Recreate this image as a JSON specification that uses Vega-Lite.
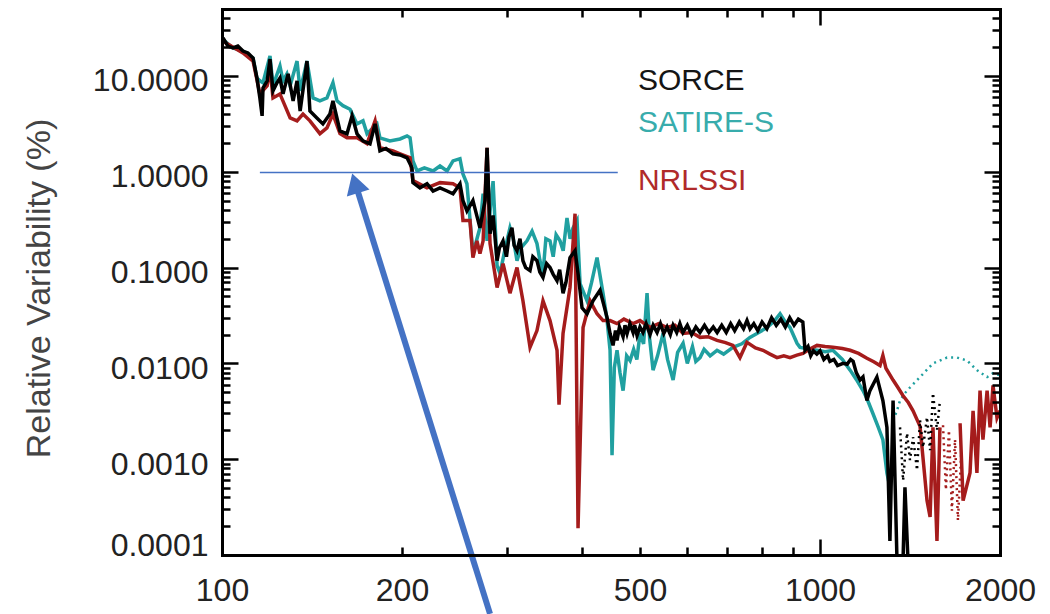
{
  "$schema": "https://vega.github.io/schema/vega-lite/v6.json",
  "width": 778,
  "height": 546,
  "autosize": {"type": "none"},
  "padding": {"left": 222, "top": 9, "right": 50, "bottom": 59},
  "background": "white",
  "config": {"view": {"stroke": null}, "font": "Liberation Sans"},
  "datasets": {
    "teal": [
      {"wl":100.4,"v":24},{"wl":104.3,"v":19.6},{"wl":108.4,"v":18.2},{"wl":112.7,"v":15.4},{"wl":114.4,"v":9.5},{"wl":115.7,"v":8.9},{"wl":117.1,"v":8.5},{"wl":120.3,"v":16.2},{"wl":121.7,"v":7.9},{"wl":125.0,"v":12.7},{"wl":126.5,"v":8.9},{"wl":128.4,"v":10.5},{"wl":130.0,"v":7.9},{"wl":133.5,"v":14.3},{"wl":135.1,"v":7.0},{"wl":138.7,"v":14.3},{"wl":142.0,"v":5.9},{"wl":145.8,"v":5.5},{"wl":149.8,"v":5.9},{"wl":153.3,"v":8.5},{"wl":155.7,"v":5.5},{"wl":159.3,"v":4.9},{"wl":163.7,"v":4.5},{"wl":168.2,"v":3.16},{"wl":172.1,"v":3.4},{"wl":174.8,"v":2.5},{"wl":181.6,"v":3.16},{"wl":183.7,"v":2.26},{"wl":190.9,"v":2.1},{"wl":198.5,"v":2.2},{"wl":203.9,"v":2.37},{"wl":206.3,"v":2.26},{"wl":208.6,"v":1.3},{"wl":211.9,"v":1.02},{"wl":218,"v":1.1},{"wl":225.4,"v":1.02},{"wl":231.5,"v":1.15},{"wl":237.9,"v":1.02},{"wl":243.4,"v":1.3},{"wl":250.0,"v":1.37},{"wl":252.9,"v":0.95},{"wl":256.8,"v":0.75},{"wl":262.8,"v":0.14},{"wl":270.0,"v":0.26},{"wl":273.3,"v":0.59},{"wl":277.5,"v":0.19},{"wl":284.0,"v":0.8},{"wl":288.4,"v":0.105},{"wl":291.7,"v":0.087},{"wl":297,"v":0.15},{"wl":303.1,"v":0.26},{"wl":307,"v":0.2},{"wl":311.4,"v":0.118},{"wl":316,"v":0.16},{"wl":323.6,"v":0.19},{"wl":330,"v":0.24},{"wl":336.3,"v":0.178},{"wl":340,"v":0.12},{"wl":344.2,"v":0.087},{"wl":348,"v":0.2},{"wl":353.6,"v":0.19},{"wl":358,"v":0.13},{"wl":362,"v":0.22},{"wl":367.5,"v":0.19},{"wl":372,"v":0.15},{"wl":377.5,"v":0.33},{"wl":382,"v":0.2},{"wl":386.4,"v":0.26},{"wl":392.4,"v":0.31},{"wl":397.0,"v":0.068},{"wl":407.8,"v":0.045},{"wl":415,"v":0.07},{"wl":423.8,"v":0.127},{"wl":433.7,"v":0.054},{"wl":440,"v":0.03},{"wl":445.6,"v":0.0137},{"wl":449.0,"v":0.0011},{"wl":453,"v":0.009},{"wl":457.7,"v":0.0137},{"wl":463,"v":0.008},{"wl":468.5,"v":0.0052},{"wl":475,"v":0.012},{"wl":481.3,"v":0.0107},{"wl":488,"v":0.014},{"wl":494,"v":0.011},{"wl":500.1,"v":0.0205},{"wl":507,"v":0.016},{"wl":513.8,"v":0.054},{"wl":519,"v":0.018},{"wl":525.8,"v":0.0085},{"wl":535,"v":0.012},{"wl":546.5,"v":0.0205},{"wl":556,"v":0.011},{"wl":568.0,"v":0.0067},{"wl":578,"v":0.013},{"wl":590.3,"v":0.0162},{"wl":600,"v":0.01},{"wl":612,"v":0.015},{"wl":620,"v":0.0105},{"wl":630.2,"v":0.0115},{"wl":640,"v":0.014},{"wl":655,"v":0.012},{"wl":672.7,"v":0.0137},{"wl":690,"v":0.0125},{"wl":715.3,"v":0.0147},{"wl":740,"v":0.016},{"wl":763.6,"v":0.0187},{"wl":790,"v":0.021},{"wl":815.5,"v":0.0237},{"wl":840,"v":0.028},{"wl":857.4,"v":0.033},{"wl":875,"v":0.027},{"wl":891.1,"v":0.0237},{"wl":915.4,"v":0.0162},{"wl":926.0,"v":0.0147},{"wl":955,"v":0.0142},{"wl":988.5,"v":0.0137},{"wl":1020,"v":0.0132},{"wl":1051,"v":0.0137},{"wl":1090,"v":0.011},{"wl":1123,"v":0.0085},{"wl":1150,"v":0.0068},{"wl":1180,"v":0.0052},{"wl":1200,"v":0.0042},{"wl":1226,"v":0.003},{"wl":1250,"v":0.0022},{"wl":1274,"v":0.0016},{"wl":1294,"v":0.00072},{"wl":1309,"v":0.00051}
    ],
    "tealdot": [
      {"wl":1325,"v":0.00255},{"wl":1345,"v":0.0032},{"wl":1361,"v":0.0041},{"wl":1387,"v":0.0049},{"wl":1414,"v":0.0056},{"wl":1470,"v":0.0072},{"wl":1545,"v":0.01},{"wl":1631,"v":0.0115},{"wl":1695,"v":0.0115},{"wl":1762,"v":0.0107},{"wl":1830,"v":0.0085},{"wl":1903,"v":0.0072},{"wl":1947,"v":0.0079},{"wl":2000,"v":0.0075}
    ],
    "red": [
      {"seg":1,"wl":100.4,"v":23},{"seg":1,"wl":108.4,"v":17.4},{"seg":1,"wl":112.7,"v":14.3},{"seg":1,"wl":115.7,"v":6.5},{"seg":1,"wl":119.0,"v":7.9},{"seg":1,"wl":120.3,"v":12.1},{"seg":1,"wl":121.7,"v":5.9},{"seg":1,"wl":125.0,"v":6.5},{"seg":1,"wl":130.0,"v":3.65},{"seg":1,"wl":133.5,"v":3.4},{"seg":1,"wl":136.6,"v":4.0},{"seg":1,"wl":140.3,"v":3.4},{"seg":1,"wl":145.8,"v":2.5},{"seg":1,"wl":149.8,"v":2.87},{"seg":1,"wl":153.3,"v":4.0},{"seg":1,"wl":157.5,"v":2.5},{"seg":1,"wl":161.8,"v":2.26},{"seg":1,"wl":168.2,"v":2.26},{"seg":1,"wl":174.8,"v":1.96},{"seg":1,"wl":180.3,"v":3.4},{"seg":1,"wl":183.7,"v":1.78},{"seg":1,"wl":193.2,"v":1.65},{"seg":1,"wl":198.5,"v":1.54},{"seg":1,"wl":206.3,"v":1.4},{"seg":1,"wl":208.6,"v":0.81},{"seg":1,"wl":220.2,"v":0.68},{"seg":1,"wl":231.5,"v":0.77},{"seg":1,"wl":243.4,"v":0.75},{"seg":1,"wl":250.0,"v":0.68},{"seg":1,"wl":252.9,"v":0.31},{"seg":1,"wl":259.8,"v":0.31},{"seg":1,"wl":262.8,"v":0.127},{"seg":1,"wl":266.9,"v":0.19},{"seg":1,"wl":270.0,"v":0.14},{"seg":1,"wl":273.3,"v":0.19},{"seg":1,"wl":277.5,"v":1.78},{"seg":1,"wl":280.7,"v":0.178},{"seg":1,"wl":288.4,"v":0.062},{"seg":1,"wl":295.1,"v":0.11},{"seg":1,"wl":303.1,"v":0.054},{"seg":1,"wl":311.4,"v":0.1},{"seg":1,"wl":318.6,"v":0.045},{"seg":1,"wl":327.4,"v":0.0147},{"seg":1,"wl":336.3,"v":0.022},{"seg":1,"wl":344.2,"v":0.045},{"seg":1,"wl":353.6,"v":0.028},{"seg":1,"wl":363.3,"v":0.0137},{"seg":1,"wl":366.1,"v":0.0037},{"seg":1,"wl":371.8,"v":0.0205},{"seg":1,"wl":381.9,"v":0.062},{"seg":1,"wl":389.4,"v":0.365},{"seg":1,"wl":393.9,"v":0.00019},{"seg":1,"wl":401.6,"v":0.0237},{"seg":1,"wl":412.6,"v":0.045},{"seg":1,"wl":423.8,"v":0.033},{"seg":1,"wl":433.7,"v":0.028},{"seg":1,"wl":445.6,"v":0.028},{"seg":1,"wl":457.7,"v":0.026},{"seg":1,"wl":470,"v":0.029},{"seg":1,"wl":486.9,"v":0.026},{"seg":1,"wl":500,"v":0.028},{"seg":1,"wl":519.8,"v":0.0237},{"seg":1,"wl":537,"v":0.026},{"seg":1,"wl":555.0,"v":0.0237},{"seg":1,"wl":572,"v":0.025},{"seg":1,"wl":590.3,"v":0.0205},{"seg":1,"wl":610,"v":0.021},{"seg":1,"wl":630.2,"v":0.0187},{"seg":1,"wl":650,"v":0.019},{"seg":1,"wl":672.7,"v":0.0174},{"seg":1,"wl":695,"v":0.0165},{"seg":1,"wl":715.3,"v":0.0154},{"seg":1,"wl":734.8,"v":0.0115},{"seg":1,"wl":754.9,"v":0.0166},{"seg":1,"wl":780,"v":0.0145},{"seg":1,"wl":803.0,"v":0.0137},{"seg":1,"wl":825,"v":0.0125},{"seg":1,"wl":847.5,"v":0.0115},{"seg":1,"wl":870,"v":0.012},{"seg":1,"wl":891.1,"v":0.0115},{"seg":1,"wl":915,"v":0.0122},{"seg":1,"wl":936.8,"v":0.0127},{"seg":1,"wl":960,"v":0.014},{"seg":1,"wl":988.5,"v":0.0154},{"seg":1,"wl":1020,"v":0.015},{"seg":1,"wl":1051,"v":0.0147},{"seg":1,"wl":1090,"v":0.0143},{"seg":1,"wl":1123,"v":0.0137},{"seg":1,"wl":1160,"v":0.0127},{"seg":1,"wl":1198,"v":0.0113},{"seg":1,"wl":1230,"v":0.0104},{"seg":1,"wl":1260,"v":0.0095},{"seg":1,"wl":1274,"v":0.0121},{"seg":1,"wl":1289,"v":0.0089},{"seg":1,"wl":1325,"v":0.0067},{"seg":1,"wl":1350,"v":0.0056},{"seg":1,"wl":1377,"v":0.0046},{"seg":1,"wl":1405,"v":0.0039},{"seg":1,"wl":1431,"v":0.0032},{"seg":1,"wl":1470,"v":0.0022},{"seg":1,"wl":1510,"v":0.00037},{"seg":1,"wl":1528,"v":0.00025},{"seg":1,"wl":1545,"v":0.00215},{"seg":1,"wl":1569,"v":0.00014},{"seg":1,"wl":1587,"v":0.00215},
      {"seg":2,"wl":1715,"v":0.00237},{"seg":2,"wl":1735,"v":0.00037},{"seg":2,"wl":1782,"v":0.00072},{"seg":2,"wl":1803,"v":0.0032},{"seg":2,"wl":1830,"v":0.00072},{"seg":2,"wl":1852,"v":0.0052},{"seg":2,"wl":1873,"v":0.0016},{"seg":2,"wl":1903,"v":0.0052},{"seg":2,"wl":1925,"v":0.00215},{"seg":2,"wl":1947,"v":0.0059},{"seg":2,"wl":1977,"v":0.0027},{"seg":2,"wl":2000,"v":0.0032}
    ],
    "reddot": [
      {"wl":1606,"v":0.00226},{"wl":1624,"v":0.00048},{"wl":1643,"v":0.002},{"wl":1662,"v":0.00029},{"wl":1682,"v":0.0016},{"wl":1701,"v":0.00023},{"wl":1722,"v":0.0011}
    ],
    "black": [
      {"wl":100.4,"v":24.9},{"wl":102.3,"v":20.5},{"wl":104.3,"v":19.6},{"wl":106.3,"v":20.5},{"wl":108.4,"v":18.2},{"wl":110.5,"v":17.4},{"wl":112.7,"v":15.4},{"wl":114.4,"v":9.5},{"wl":115.7,"v":5.9},{"wl":116.7,"v":3.83},{"wl":117.1,"v":7.5},{"wl":119.0,"v":8.9},{"wl":120.3,"v":15.0},{"wl":121.7,"v":7.0},{"wl":123.6,"v":8.5},{"wl":125.0,"v":9.5},{"wl":126.5,"v":6.5},{"wl":129.0,"v":10.5},{"wl":131.5,"v":5.5},{"wl":133.5,"v":8.9},{"wl":135.1,"v":4.3},{"wl":138.7,"v":14.3},{"wl":140.3,"v":4.3},{"wl":144.1,"v":3.65},{"wl":147.5,"v":3.16},{"wl":151.5,"v":4.0},{"wl":153.3,"v":5.5},{"wl":157.5,"v":2.67},{"wl":161.8,"v":2.49},{"wl":165.0,"v":3.83},{"wl":168.2,"v":2.49},{"wl":172.1,"v":2.1},{"wl":176.8,"v":1.96},{"wl":180.3,"v":3.16},{"wl":183.7,"v":1.65},{"wl":188,"v":1.75},{"wl":193.2,"v":1.54},{"wl":198.5,"v":1.5},{"wl":203.9,"v":1.4},{"wl":207.8,"v":1.1},{"wl":208.6,"v":0.77},{"wl":214.3,"v":0.68},{"wl":220.2,"v":0.75},{"wl":225.4,"v":0.63},{"wl":231.5,"v":0.68},{"wl":237.9,"v":0.63},{"wl":243.4,"v":0.59},{"wl":250.0,"v":0.75},{"wl":252.9,"v":0.5},{"wl":256.8,"v":0.39},{"wl":262.8,"v":0.5},{"wl":270.0,"v":0.26},{"wl":275.4,"v":0.5},{"wl":277.5,"v":1.78},{"wl":280.7,"v":0.226},{"wl":284.0,"v":0.35},{"wl":288.4,"v":0.118},{"wl":291,"v":0.16},{"wl":295.1,"v":0.19},{"wl":299,"v":0.13},{"wl":302,"v":0.21},{"wl":305.4,"v":0.26},{"wl":308,"v":0.17},{"wl":311.4,"v":0.15},{"wl":315,"v":0.2},{"wl":318.6,"v":0.118},{"wl":322,"v":0.1},{"wl":327.4,"v":0.093},{"wl":331,"v":0.13},{"wl":336.3,"v":0.118},{"wl":340,"v":0.09},{"wl":344.2,"v":0.079},{"wl":349,"v":0.11},{"wl":353.6,"v":0.1},{"wl":358,"v":0.085},{"wl":363.3,"v":0.073},{"wl":367,"v":0.095},{"wl":371.8,"v":0.054},{"wl":376,"v":0.07},{"wl":381.9,"v":0.127},{"wl":389.4,"v":0.15},{"wl":393.9,"v":0.087},{"wl":400.0,"v":0.038},{"wl":407.8,"v":0.033},{"wl":417.3,"v":0.045},{"wl":428.7,"v":0.058},{"wl":440.5,"v":0.03},{"wl":445.6,"v":0.0205},{"wl":450.7,"v":0.0154},{"wl":455,"v":0.022},{"wl":457.7,"v":0.0174},{"wl":462,"v":0.024},{"wl":468.5,"v":0.019},{"wl":472,"v":0.025},{"wl":475.8,"v":0.0205},{"wl":481,"v":0.026},{"wl":486.9,"v":0.021},{"wl":490,"v":0.025},{"wl":494.4,"v":0.0195},{"wl":500,"v":0.024},{"wl":505.8,"v":0.021},{"wl":512,"v":0.026},{"wl":519.8,"v":0.02},{"wl":526,"v":0.025},{"wl":534,"v":0.021},{"wl":541,"v":0.026},{"wl":548,"v":0.0205},{"wl":555,"v":0.024},{"wl":562,"v":0.02},{"wl":568,"v":0.025},{"wl":576,"v":0.021},{"wl":583,"v":0.026},{"wl":590,"v":0.021},{"wl":600,"v":0.025},{"wl":610,"v":0.02},{"wl":620,"v":0.024},{"wl":630,"v":0.021},{"wl":641,"v":0.025},{"wl":652,"v":0.021},{"wl":663,"v":0.024},{"wl":673,"v":0.021},{"wl":685,"v":0.025},{"wl":697,"v":0.021},{"wl":709,"v":0.026},{"wl":720,"v":0.022},{"wl":733,"v":0.027},{"wl":745,"v":0.023},{"wl":755,"v":0.028},{"wl":764,"v":0.023},{"wl":775,"v":0.026},{"wl":787,"v":0.022},{"wl":800,"v":0.027},{"wl":815,"v":0.023},{"wl":830,"v":0.03},{"wl":845,"v":0.025},{"wl":860,"v":0.029},{"wl":875,"v":0.024},{"wl":890,"v":0.03},{"wl":905,"v":0.025},{"wl":920,"v":0.029},{"wl":936,"v":0.027},{"wl":944.0,"v":0.0137},{"wl":955,"v":0.015},{"wl":965,"v":0.012},{"wl":975,"v":0.0135},{"wl":988,"v":0.0125},{"wl":1000,"v":0.0135},{"wl":1015,"v":0.011},{"wl":1030,"v":0.012},{"wl":1039,"v":0.0105},{"wl":1055,"v":0.011},{"wl":1070,"v":0.0095},{"wl":1093,"v":0.01},{"wl":1110,"v":0.0098},{"wl":1125,"v":0.011},{"wl":1136,"v":0.0105},{"wl":1150,"v":0.008},{"wl":1167,"v":0.0067},{"wl":1180,"v":0.0072},{"wl":1198,"v":0.0041},{"wl":1212,"v":0.0052},{"wl":1245,"v":0.0072},{"wl":1274,"v":0.0041},{"wl":1294,"v":0.00215},{"wl":1309,"v":0.00014},{"wl":1325,"v":0.0041},{"wl":1345,"v":0.00009},{"wl":1377,"v":0.00009},{"wl":1387,"v":0.00051},{"wl":1403,"v":0.00009}
    ],
    "blackdot": [
      {"wl":1361,"v":0.00215},{"wl":1377,"v":0.0006},{"wl":1398,"v":0.00187},{"wl":1414,"v":0.00098},{"wl":1431,"v":0.0017},{"wl":1453,"v":0.00077},{"wl":1470,"v":0.00255},{"wl":1487,"v":0.00133},{"wl":1510,"v":0.00274},{"wl":1528,"v":0.00124},{"wl":1545,"v":0.0049},{"wl":1569,"v":0.002},{"wl":1587,"v":0.0041}
    ]
  },
  "layer": [
    {
      "data": {"name": "teal"},
      "mark": {"type": "line", "color": "#20a0a0", "strokeWidth": 3.5, "clip": true},
      "encoding": {
        "x": {"field": "wl", "type": "quantitative", "scale": {"type": "log", "domain": [100, 2000], "nice": false},
          "axis": {"orient": "bottom", "values": [100,200,300,400,500,600,700,800,900,1000,2000],
            "labelExpr": "indexof([100,200,500,1000,2000], datum.value) >= 0 ? format(datum.value, 'd') : ''",
            "tickSize": {"condition": {"test": "datum.value == 100 || datum.value == 1000", "value": -16}, "value": -8},
            "labelPadding": {"condition": {"test": "datum.value == 100 || datum.value == 1000", "value": 36}, "value": 28},
            "labelBaseline": "top", "labelFontSize": 32, "labelFont": "Liberation Sans", "labelColor": "#222",
            "labelAngle": 0, "labelOverlap": false, "labelFlush": false,
            "tickColor": "black", "tickWidth": 2.5, "domainColor": "black", "domainWidth": 3, "domainCap": "square",
            "grid": false, "title": null, "zindex": 1}},
        "y": {"field": "v", "type": "quantitative", "scale": {"type": "log", "domain": [0.0001, 50], "nice": false},
          "axis": {"orient": "left", "values": [0.0001,0.0002,0.0003,0.0004,0.0005,0.0006,0.0007,0.0008,0.0009,0.001,0.002,0.003,0.004,0.005,0.006,0.007,0.008,0.009,0.01,0.02,0.03,0.04,0.05,0.06,0.07,0.08,0.09,0.1,0.2,0.3,0.4,0.5,0.6,0.7,0.8,0.9,1,2,3,4,5,6,7,8,9,10,20,30,40,50],
            "labelExpr": "abs(log(datum.value)/LN10 - round(log(datum.value)/LN10)) < 0.001 ? format(datum.value, '.4f') : ''",
            "tickSize": {"condition": {"test": "abs(log(datum.value)/LN10 - round(log(datum.value)/LN10)) < 0.001", "value": -16}, "value": -8},
            "labelPadding": {"condition": {"test": "abs(log(datum.value)/LN10 - round(log(datum.value)/LN10)) < 0.001", "value": 30}, "value": 22},
            "labelOffset": {"condition": {"test": "datum.value < 0.00015", "value": -10}, "value": 5},
            "labelBaseline": "middle", "labelFontSize": 32, "labelFont": "Liberation Sans", "labelColor": "#222",
            "labelOverlap": false, "labelFlush": false,
            "tickColor": "black", "tickWidth": 2.5, "domainColor": "black", "domainWidth": 3, "domainCap": "square",
            "grid": false, "zindex": 1,
            "title": "Relative Variability (%)", "titleFont": "Liberation Sans", "titleFontSize": 34, "titleFontWeight": "normal",
            "titleColor": "#444", "titleX": -183, "titleY": 279, "titleAngle": -90, "titleAlign": "center", "titleBaseline": "middle"}}
      }
    },
    {
      "data": {"name": "tealdot"},
      "mark": {"type": "line", "color": "#20a0a0", "strokeWidth": 2.5, "strokeDash": [2, 4], "clip": true},
      "encoding": {
        "x": {"field": "wl", "type": "quantitative",
          "axis": {"orient": "top", "values": [100,200,300,400,500,600,700,800,900,1000,2000], "labels": false,
            "tickSize": {"condition": {"test": "datum.value == 100 || datum.value == 1000", "value": -16}, "value": -8},
            "tickColor": "black", "tickWidth": 2.5, "domainColor": "black", "domainWidth": 3, "domainCap": "square",
            "grid": false, "title": null, "zindex": 1}},
        "y": {"field": "v", "type": "quantitative",
          "axis": {"orient": "right", "values": [0.0001,0.0002,0.0003,0.0004,0.0005,0.0006,0.0007,0.0008,0.0009,0.001,0.002,0.003,0.004,0.005,0.006,0.007,0.008,0.009,0.01,0.02,0.03,0.04,0.05,0.06,0.07,0.08,0.09,0.1,0.2,0.3,0.4,0.5,0.6,0.7,0.8,0.9,1,2,3,4,5,6,7,8,9,10,20,30,40,50], "labels": false,
            "tickSize": {"condition": {"test": "abs(log(datum.value)/LN10 - round(log(datum.value)/LN10)) < 0.001", "value": -16}, "value": -8},
            "tickColor": "black", "tickWidth": 2.5, "domainColor": "black", "domainWidth": 3, "domainCap": "square",
            "grid": false, "title": null, "zindex": 1}}
      }
    },
    {
      "data": {"name": "red"},
      "mark": {"type": "line", "color": "#a51c1c", "strokeWidth": 3.5, "clip": true},
      "encoding": {
        "x": {"field": "wl", "type": "quantitative", "axis": null},
        "y": {"field": "v", "type": "quantitative", "axis": null},
        "detail": {"field": "seg", "type": "nominal"}
      }
    },
    {
      "data": {"name": "reddot"},
      "mark": {"type": "line", "color": "#a51c1c", "strokeWidth": 2.5, "strokeDash": [2, 4], "clip": true},
      "encoding": {
        "x": {"field": "wl", "type": "quantitative", "axis": null},
        "y": {"field": "v", "type": "quantitative", "axis": null}
      }
    },
    {
      "data": {"name": "black"},
      "mark": {"type": "line", "color": "#000000", "strokeWidth": 3.5, "clip": true},
      "encoding": {
        "x": {"field": "wl", "type": "quantitative", "axis": null},
        "y": {"field": "v", "type": "quantitative", "axis": null}
      }
    },
    {
      "data": {"name": "blackdot"},
      "mark": {"type": "line", "color": "#000000", "strokeWidth": 2.5, "strokeDash": [2, 4], "clip": true},
      "encoding": {
        "x": {"field": "wl", "type": "quantitative", "axis": null},
        "y": {"field": "v", "type": "quantitative", "axis": null}
      }
    },
    {
      "data": {"values": [{}]},
      "mark": {"type": "rule", "color": "#4472c4", "strokeWidth": 1.5},
      "encoding": {
        "x": {"datum": 115.7, "axis": null},
        "x2": {"datum": 459},
        "y": {"datum": 0.98, "axis": null}
      }
    },
    {
      "data": {"values": [{}]},
      "mark": {"type": "rule", "color": "#4472c4", "strokeWidth": 6, "clip": false},
      "encoding": {
        "x": {"datum": 280.7, "axis": null},
        "y": {"datum": 0.0000243, "axis": null},
        "x2": {"datum": 167.0},
        "y2": {"datum": 0.76}
      }
    },
    {
      "data": {"values": [{}]},
      "mark": {"type": "point", "shape": "triangle-up", "filled": true, "size": 560, "angle": -17, "color": "#4472c4", "opacity": 1, "clip": false},
      "encoding": {
        "x": {"datum": 167.0, "axis": null},
        "y": {"datum": 0.76, "axis": null}
      }
    },
    {
      "data": {"values": [{}]},
      "mark": {"type": "text", "text": "SORCE", "align": "left", "baseline": "middle", "fontSize": 30, "font": "Liberation Sans", "color": "#151515"},
      "encoding": {"x": {"datum": 496, "axis": null}, "y": {"datum": 8.9, "axis": null}}
    },
    {
      "data": {"values": [{}]},
      "mark": {"type": "text", "text": "SATIRE-S", "align": "left", "baseline": "middle", "fontSize": 30, "font": "Liberation Sans", "color": "#38acac"},
      "encoding": {"x": {"datum": 496, "axis": null}, "y": {"datum": 3.24, "axis": null}}
    },
    {
      "data": {"values": [{}]},
      "mark": {"type": "text", "text": "NRLSSI", "align": "left", "baseline": "middle", "fontSize": 30, "font": "Liberation Sans", "color": "#b02a2a"},
      "encoding": {"x": {"datum": 496, "axis": null}, "y": {"datum": 0.806, "axis": null}}
    }
  ],
  "resolve": {"axis": {"x": "independent", "y": "independent"}}
}
